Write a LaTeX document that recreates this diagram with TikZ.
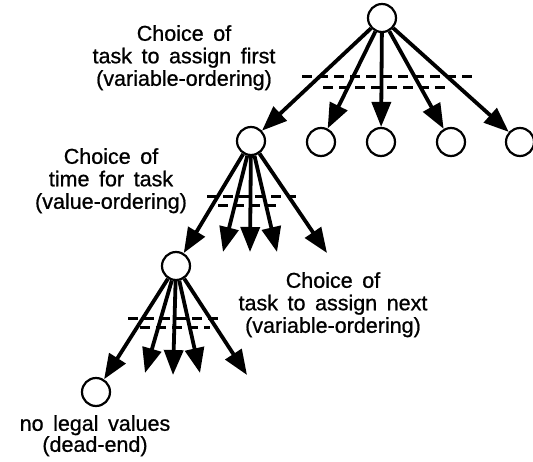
\documentclass[tikz,border=0pt]{standalone}
\usepackage{fontspec}
\setmainfont{Liberation Sans}[WordSpace=1.6,FakeBold=0.8]
\usetikzlibrary{arrows.meta}
\begin{document}
\begin{tikzpicture}[x=1pt,y=-1pt,
  state/.style={circle,draw,line width=2.2pt,minimum size=28pt,inner sep=0pt},
  branch/.style={line width=3.8pt,-{Triangle[length=25pt,width=19pt]}},
  choice/.style={line width=3pt,dash pattern=on 10pt off 6pt},
  lbl/.style={align=center,inner sep=0pt,anchor=north,font=\fontsize{21.5}{22.5}\selectfont}]
\useasboundingbox (0,0) rectangle (533,461);
% nodes
\node[state] (t)  at (382,18) {};
\node[state] (c1) at (251,141) {};
\node[state] (c2) at (321,142) {};
\node[state] (c3) at (381,142) {};
\node[state] (c4) at (451,142) {};
\node[state] (c5) at (520,142) {};
\node[state] (d1) at (176,266) {};
\coordinate (e2) at (223,252);
\coordinate (e3) at (250,252);
\coordinate (e4) at (277,252);
\coordinate (e5) at (327,253);
\node[state] (leaf) at (96,392) {};
\coordinate (f2) at (145,373);
\coordinate (f3) at (173,375);
\coordinate (f4) at (200,373);
\coordinate (f5) at (247,375);
% branches
\foreach \c in {c1,c2,c3,c4,c5} \draw[branch] (t) -- (\c);
\foreach \c in {d1,e2,e3,e4,e5} \draw[branch] (c1) -- (\c);
\foreach \c in {leaf,f2,f3,f4,f5} \draw[branch] (d1) -- (\c);
% choice marks
\draw[choice] (302,76) -- (473,76);
\draw[choice] (323,87) -- (450,87);
\draw[choice] (207,196) -- (296,196);
\draw[choice] (218,205) -- (282,205);
\draw[choice] (128,318) -- (220,318);
\draw[choice] (140,327) -- (210,327);
% labels
\node[lbl] (l1) at (184,25) {Choice of\\task to assign first\\(variable-ordering)};
\node[lbl] (l2) at (111,148) {Choice of\\time for task\\(value-ordering)};
\node[lbl] (l3) at (333,272) {Choice of\\task to assign next\\(variable-ordering)};
\node[lbl,font=\fontsize{21.5}{21}\selectfont] (l4) at (95,415) {no legal values\\(dead-end)};
\end{tikzpicture}
\end{document}
